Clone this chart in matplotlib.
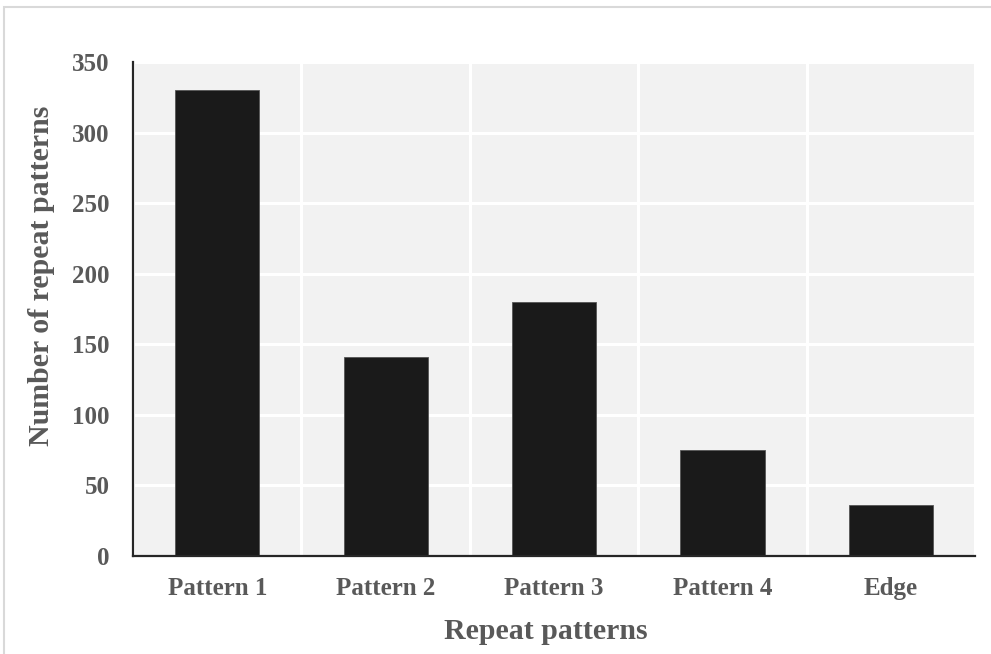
import numpy as np
import matplotlib.pyplot as plt
from matplotlib.patches import Rectangle

categories = ['Pattern 1', 'Pattern 2', 'Pattern 3', 'Pattern 4', 'Edge']
counts = [330, 141, 180, 75, 36]
y_ticks = [0, 50, 100, 150, 200, 250, 300, 350]

plt.rcParams['font.family'] = ['Liberation Serif', 'DejaVu Serif']
plt.rcParams['font.weight'] = 'bold'

txt = '#595959'

fig = plt.figure(figsize=(9.91, 6.54), dpi=100)
# outer chart border (only top and left visible in the crop)
fig.patches.append(Rectangle((4/991, -0.1), 1.2, 1 - 7/654 + 0.1, transform=fig.transFigure,
                             fill=False, edgecolor='#d9d9d9', lw=1.5))

ax = fig.add_axes([133/991, 1 - 556/654, (975 - 133)/991, (556 - 62)/654])
ax.set_facecolor('#f2f2f2')

x = np.arange(len(categories))
ax.bar(x, counts, width=0.5, color='#1a1a1a', edgecolor='#555555', lw=0.6, zorder=3)

ax.set_xlim(-0.5, len(categories) - 0.5)
ax.set_ylim(0, 350)
ax.set_yticks(y_ticks)
ax.set_xticks(x)
ax.set_xticklabels(categories)
ax.set_xticks(np.arange(len(categories) + 1) - 0.5, minor=True)

ax.grid(axis='y', which='major', color='white', lw=2.2, zorder=1)
ax.grid(axis='x', which='minor', color='white', lw=2.2, zorder=1)
ax.set_axisbelow(True)

for s in ['top', 'right']:
    ax.spines[s].set_visible(False)
for s in ['left', 'bottom']:
    ax.spines[s].set_color('#262626')
    ax.spines[s].set_linewidth(1.6)
    ax.spines[s].set_zorder(4)

ax.tick_params(axis='both', which='both', length=0, labelsize=18, labelcolor=txt)
ax.tick_params(axis='y', pad=17)
ax.tick_params(axis='x', pad=15)

ax.set_xlabel('Repeat patterns', fontsize=21.5, color=txt, fontweight='bold')
ax.set_ylabel('Number of repeat patterns', fontsize=21.5, color=txt, fontweight='bold', labelpad=12)
ax.xaxis.set_label_coords(0.4905, -0.125)
ax.yaxis.label.set_y(0.567)

fig.savefig('out.png', dpi=100)
